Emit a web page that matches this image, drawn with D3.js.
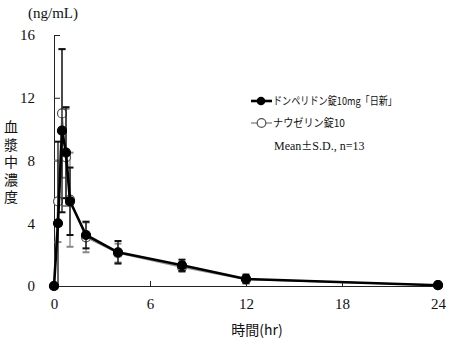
<!DOCTYPE html>
<html>
<head>
<meta charset="utf-8">
<script src="https://cdn.jsdelivr.net/npm/d3@7"></script>
<style>
  html, body { margin: 0; padding: 0; background: #fff; }
  svg { display: block; }
  .num { font-family: "Liberation Serif", "DejaVu Serif", serif; }
  .jp { font-family: "Noto Sans CJK JP", sans-serif; }
</style>
</head>
<body>
<svg id="chart" width="451" height="344"></svg>
<script>
// Sampling times (hr)
const times = [0, 0.25, 0.5, 0.75, 1, 2, 4, 8, 12, 24];

// ドンペリドン錠10mg「日新」 — mean and S.D. (ng/mL)
const testMean = [0, 4.0, 9.9, 8.5, 5.4, 3.25, 2.15, 1.32, 0.45, 0.05];
const testSD   = [0, 5.2, 5.2, 2.9, 2.15, 0.85, 0.72, 0.36, 0.28, 0.03];

// ナウゼリン錠10 — mean and S.D. (ng/mL)
const refMean = [0, 5.4, 11.0, 8.2, 5.5, 3.1, 2.1, 1.2, 0.42, 0.05];
const refSD   = [0, 2.6, 4.1, 3.1, 3.0, 0.95, 0.6, 0.3, 0.2, 0.03];

const xTicks = [0, 6, 12, 18, 24];
const yTicks = [0, 4, 8, 12, 16];

const legendLabels = ["ドンペリドン錠10mg「日新」", "ナウゼリン錠10"];

const svg = d3.select("#chart");
const x = d3.scaleLinear().domain([0, 24]).range([54, 438]);
const y = d3.scaleLinear().domain([0, 16]).range([286, 35]);

// axes with inward ticks
const yAxis = svg.append("g")
  .attr("transform", `translate(${x(0)},0)`)
  .call(d3.axisLeft(y).tickValues(yTicks).tickSizeInner(-6).tickSizeOuter(0).tickPadding(19));
const xAxis = svg.append("g")
  .attr("transform", `translate(0,${y(0)})`)
  .call(d3.axisBottom(x).tickValues(xTicks).tickSizeInner(-5).tickSizeOuter(0).tickPadding(12));

[yAxis, xAxis].forEach(g => {
  g.selectAll("path.domain").attr("stroke", "#222").attr("stroke-width", 1);
  g.selectAll(".tick line").attr("stroke", "#222");
  g.selectAll(".tick text")
    .attr("class", "num")
    .attr("font-size", 15)
    .attr("fill", "#111");
});

// one series: error bars, connecting line, markers
function series(means, sds, opt) {
  const pts = times.map((t, i) => ({ t, m: means[i], sd: sds[i] }));
  const g = svg.append("g");
  const bars = pts.filter(d => d.sd > 0);
  g.selectAll("line.bar").data(bars).join("line")
    .attr("x1", d => x(d.t)).attr("x2", d => x(d.t))
    .attr("y1", d => y(Math.max(0, d.m - d.sd)))
    .attr("y2", d => y(d.m + d.sd))
    .attr("stroke", opt.bar).attr("stroke-width", 1.3);
  const capW = 3.5;
  const caps = [];
  bars.forEach(d => {
    caps.push({ t: d.t, v: d.m + d.sd });
    if (d.m - d.sd > 0) caps.push({ t: d.t, v: d.m - d.sd });
  });
  g.selectAll("line.cap").data(caps).join("line")
    .attr("x1", d => x(d.t) - capW).attr("x2", d => x(d.t) + capW)
    .attr("y1", d => y(d.v)).attr("y2", d => y(d.v))
    .attr("stroke", opt.bar).attr("stroke-width", 2);
  g.append("path").datum(pts)
    .attr("d", d3.line().x(d => x(d.t)).y(d => y(d.m)))
    .attr("fill", "none").attr("stroke", opt.line).attr("stroke-width", opt.lw)
    .attr("stroke-linejoin", "round");
  g.selectAll("circle").data(pts).join("circle")
    .attr("cx", d => x(d.t)).attr("cy", d => y(d.m)).attr("r", 4.5)
    .attr("fill", opt.fill).attr("stroke", opt.stroke).attr("stroke-width", 1.2);
}

series(refMean, refSD, { bar: "#888", line: "#999", lw: 1.6, fill: "#fff", stroke: "#555" });
series(testMean, testSD, { bar: "#111", line: "#000", lw: 2.6, fill: "#000", stroke: "#000" });

// legend
const lg = svg.append("g");
lg.append("line").attr("x1", 251).attr("x2", 272).attr("y1", 101).attr("y2", 101)
  .attr("stroke", "#000").attr("stroke-width", 2.6);
lg.append("circle").attr("cx", 261).attr("cy", 101).attr("r", 4.3).attr("fill", "#000");
lg.append("line").attr("x1", 251).attr("x2", 272).attr("y1", 123).attr("y2", 123)
  .attr("stroke", "#999").attr("stroke-width", 1.6);
lg.append("circle").attr("cx", 261.5).attr("cy", 123).attr("r", 4.3)
  .attr("fill", "#fff").attr("stroke", "#555").attr("stroke-width", 1.2);
lg.append("text").attr("class", "jp").attr("x", 273).attr("y", 105)
  .attr("font-size", 11).attr("textLength", 124).attr("lengthAdjust", "spacingAndGlyphs")
  .attr("fill", "#111").text(legendLabels[0]);
lg.append("text").attr("class", "jp").attr("x", 273).attr("y", 127)
  .attr("font-size", 11).attr("textLength", 72).attr("lengthAdjust", "spacingAndGlyphs")
  .attr("fill", "#111").text(legendLabels[1]);
const note = lg.append("text").attr("class", "num").attr("x", 274).attr("y", 150)
  .attr("font-size", 12).attr("fill", "#111");
note.append("tspan").text("Mean");
note.append("tspan").attr("class", "jp").attr("font-size", 11).text("±");
note.append("tspan").text("S.D., n=13");

// unit and axis titles
svg.append("text").attr("class", "num").attr("x", 28).attr("y", 18)
  .attr("font-size", 15).attr("fill", "#111").text("(ng/mL)");
svg.append("text").attr("class", "jp").attr("x", 257).attr("y", 335)
  .attr("text-anchor", "middle").attr("font-size", 14).attr("fill", "#111").text("時間(hr)");
svg.append("text").attr("class", "jp")
  .attr("x", 11).attr("y", 120)
  .attr("font-size", 14).attr("fill", "#111")
  .style("writing-mode", "vertical-rl")
  .style("letter-spacing", "3.5px")
  .text("血漿中濃度");
</script>
</body>
</html>
